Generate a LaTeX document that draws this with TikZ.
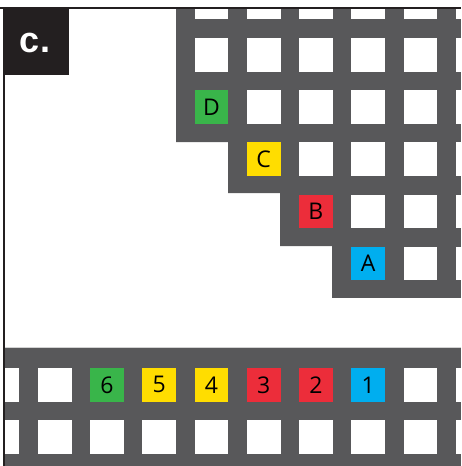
\documentclass[tikz,border=0pt]{standalone}
\usepackage{fontspec}
\setmainfont{Open Sans}
\newfontfamily\headfont{Liberation Sans}
\definecolor{gridgrey}{HTML}{58585A}
\definecolor{framecol}{HTML}{231F20}
\definecolor{cgreen}{HTML}{39B54A}
\definecolor{cyellow}{HTML}{FFDD00}
\definecolor{cred}{HTML}{EC2D3A}
\definecolor{cblue}{HTML}{00AEEF}
\begin{document}
\begin{tikzpicture}[x=1pt,y=-1pt,
  hole/.style={fill=white},
  cell/.style={minimum size=33.7pt, inner sep=0pt, outer sep=0pt, anchor=north west,
    font=\fontsize{23}{23}\selectfont, text=black},
  framestyle/.style={draw=framecol},
]
\useasboundingbox (0,0) rectangle (461,466);
% upper staircase grid
\begin{scope}
  \clip (176,9) -- (461,9) -- (461,298) -- (332,298) -- (332,246) -- (280,246)
    -- (280,193) -- (228,193) -- (228,142) -- (176,142) -- cycle;
  \fill[gridgrey] (176,0) rectangle (461,298);
  \foreach \i/\jmax in {3/0,4/1,5/2,6/3,7/4,8/4}
    \foreach \j in {-1,...,\jmax}
      \fill[hole] ({37.8+52.25*\i},{37.9+52.2*\j}) rectangle ++(33.7,33.7);
\end{scope}
\node[cell, fill=cgreen]  (sqD) at ({37.8+52.25*3},{37.9+52.2*1}) {D};
\node[cell, fill=cyellow] (sqC) at ({37.8+52.25*4},{37.9+52.2*2}) {C};
\node[cell, fill=cred]    (sqB) at ({37.8+52.25*5},{37.9+52.2*3}) {B};
\node[cell, fill=cblue]   (sqA) at ({37.8+52.25*6},{37.9+52.2*4}) {A};
% lower strip
\begin{scope}
  \clip (4.7,348) rectangle (461,466);
  \fill[gridgrey] (4.7,348) rectangle (461,466);
  \foreach \i in {-1,...,8}
    \fill[hole] ({37.8+52.25*\i},420) rectangle ++(33.7,33.7);
  \foreach \i in {-1,0,7,8}
    \fill[hole] ({37.8+52.25*\i},368) rectangle ++(33.7,33.7);
\end{scope}
\draw[gray!35, line width=0.7pt] (4.7,347.6) -- (461,347.6);
\node[cell, fill=cgreen]  (sq6) at ({37.8+52.25*1},368) {6};
\node[cell, fill=cyellow] (sq5) at ({37.8+52.25*2},368) {5};
\node[cell, fill=cyellow] (sq4) at ({37.8+52.25*3},368) {4};
\node[cell, fill=cred]    (sq3) at ({37.8+52.25*4},368) {3};
\node[cell, fill=cred]    (sq2) at ({37.8+52.25*5},368) {2};
\node[cell, fill=cblue]   (sq1) at ({37.8+52.25*6},368) {1};
% frame
\draw[framestyle, line width=1.7pt] (0,8.2) -- (461,8.2);
\draw[framestyle, line width=2pt] (3.7,8) -- (3.7,466);
% label
\fill[framecol] (2.7,7.4) rectangle (69,75);
\node[anchor=base, inner sep=0pt, text=white, font=\headfont\bfseries\fontsize{36}{36}\selectfont]
  (label) at (35,52) {c.};
\end{tikzpicture}
\end{document}
